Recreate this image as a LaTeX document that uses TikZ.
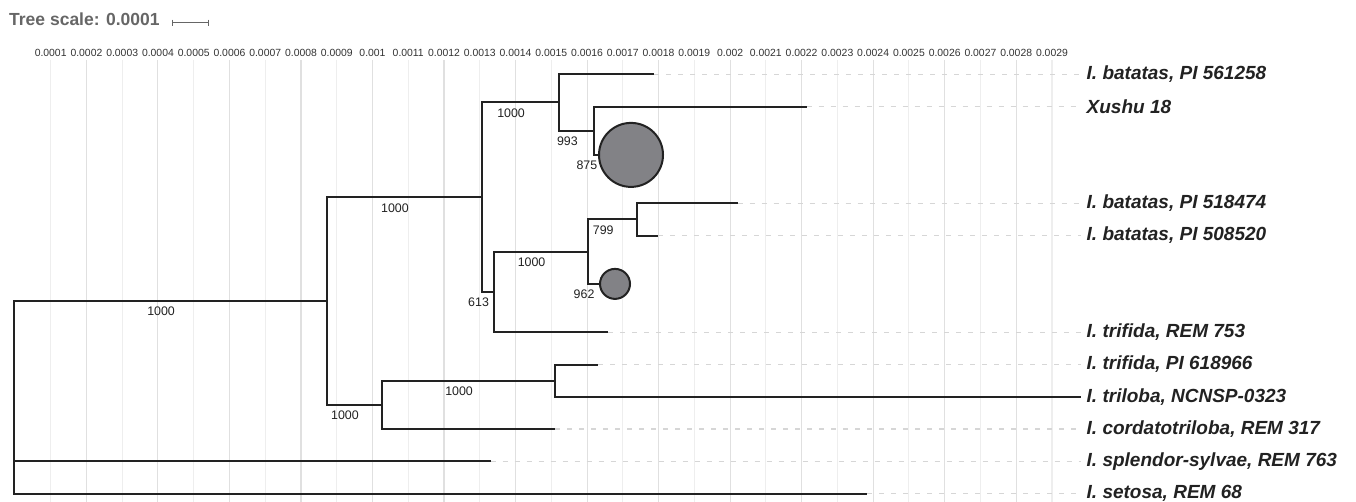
\documentclass[tikz,border=0pt]{standalone}
\usepackage{fontspec}
\setmainfont{Liberation Sans}
\usetikzlibrary{calc}

\definecolor{treeline}{HTML}{222222}
\definecolor{cladegray}{HTML}{828286}
\definecolor{grideven}{HTML}{E0E0E0}
\definecolor{gridodd}{HTML}{EEEEEE}
\definecolor{guidegray}{HTML}{D6D6D6}
\definecolor{scalegray}{HTML}{666666}
\definecolor{ticktext}{HTML}{333333}

\tikzset{
  branch/.style={draw=treeline, line width=2pt},
  clade/.style={circle, draw=treeline, line width=2pt, fill=cladegray, inner sep=0pt},
  leaf/.style={anchor=west, inner xsep=5.5pt, inner ysep=0pt, text=treeline,
    font=\fontsize{19}{22}\selectfont\bfseries\itshape},
  support/.style={inner sep=0pt, text=treeline, font=\fontsize{12.4}{14}\selectfont},
  ticklabel/.style={inner sep=0pt, text=ticktext, font=\fontsize{10.4}{12}\selectfont},
  guide/.style={draw=guidegray, line width=1.3pt, dash pattern=on 5pt off 7pt},
}

% bootstrap value below the middle of a branch
\newcommand{\bsval}[4]{\node[support] (#1) at ($(#2 |- #3)!0.5!(#3) + (-9.3,10.5)$) {#4};}

\begin{document}
\begin{tikzpicture}[x=1pt, y=-1pt]
  \useasboundingbox (0,0) rectangle (1356,502);
  \fill[white] (0,0) rectangle (1356,502);

  % grid and axis
  \foreach \i in {1,...,29}{
    \pgfmathsetmacro\gx{14.9+35.76*\i}
    \ifodd\i \def\gc{gridodd}\else \def\gc{grideven}\fi
    \draw[draw=\gc, line width=1.1pt] (\gx,60) -- (\gx,502);
    \node[ticklabel] (tick\i) at (\gx,53)
      {\ifnum\i<10 0.000\i\else\ifnum\i=10 0.001\else\ifnum\i=20 0.002\else 0.00\i\fi\fi\fi};
  }

  % tree scale
  \node[anchor=west, inner sep=0pt, text=scalegray, font=\fontsize{17.5}{20}\selectfont\bfseries]
    (title) at (9,19) {Tree scale: 0.0001};
  \coordinate (sbL) at (172,22.7);
  \coordinate (sbR) at (208,22.7);
  \draw[scalegray, line width=1pt] (sbL) -- (sbR);
  \draw[scalegray, line width=1pt] ([yshift=3pt]sbL) -- ([yshift=-3pt]sbL);
  \draw[scalegray, line width=1pt] ([yshift=3pt]sbR) -- ([yshift=-3pt]sbR);

  % leaf labels
  \foreach \n/\y/\t in {l1/74.3/{I. batatas, PI 561258}, l2/106.55/{Xushu 18},
      l3/203.3/{I. batatas, PI 518474}, l4/235.55/{I. batatas, PI 508520},
      l5/332.3/{I. trifida, REM 753}, l6/364.55/{I. trifida, PI 618966},
      l7/396.8/{I. triloba, NCNSP-0323}, l8/429.05/{I. cordatotriloba, REM 317},
      l9/461.3/{I. splendor-sylvae, REM 763}, l10/493.55/{I. setosa, REM 68}}
    \node[leaf] (\n) at (1081,\y) {\t};

  % internal nodes
  \coordinate (root) at (14,397);
  \coordinate (A) at (326.7,301.1);
  \coordinate (B) at (481.7,197.25);
  \coordinate (D) at (559,102.5);
  \coordinate (F) at (594.3,130.7);
  \coordinate (E) at (494,292);
  \coordinate (G) at (587.7,251.7);
  \coordinate (H) at (637.3,219.4);
  \coordinate (C) at (381.7,404.9);
  \coordinate (I) at (555,380.7);

  % tips
  \coordinate (t1) at (654.3,74.3);
  \coordinate (t2) at (806.7,106.55);
  \coordinate (t3) at (737.7,203.3);
  \coordinate (t4) at (658.3,235.55);
  \coordinate (t5) at (608.3,332.3);
  \coordinate (t6) at (598.3,364.55);
  \coordinate (t7) at (l7.west);
  \coordinate (t8) at (555,429.05);
  \coordinate (t9) at (490.7,461.3);
  \coordinate (t10) at (867.3,493.55);

  % collapsed clades
  \node[clade, minimum size=64pt] (big) at (631,154.9) {};
  \node[clade, minimum size=30pt] (small) at (615,283.9) {};

  % dashed guides to labels
  \foreach \t/\l in {t1/l1, t2/l2, t3/l3, t4/l4, t5/l5, t6/l6, t8/l8, t9/l9, t10/l10}
    \draw[guide] (\t) -- (\l.west);

  % branches
  \foreach \p/\c in {root/A, root/t9, root/t10, A/B, A/C, B/D, B/E, D/t1, D/F,
      F/t2, F/big.west, E/G, E/t5, G/H, G/small.west, H/t3, H/t4, C/I, C/t8, I/t6, I/t7}
    \draw[branch] (\p) |- (\c);

  % support values
  \bsval{sA}{root}{A}{1000}
  \bsval{sB}{A}{B}{1000}
  \bsval{sC}{A}{C}{1000}
  \bsval{sD}{B}{D}{1000}
  \bsval{sF}{D}{F}{993}
  \bsval{sbig}{F}{big.west}{875}
  \bsval{sE}{B}{E}{613}
  \bsval{sG}{E}{G}{1000}
  \bsval{sH}{G}{H}{799}
  \bsval{ssmall}{G}{small.west}{962}
  \bsval{sI}{C}{I}{1000}
\end{tikzpicture}
\end{document}
